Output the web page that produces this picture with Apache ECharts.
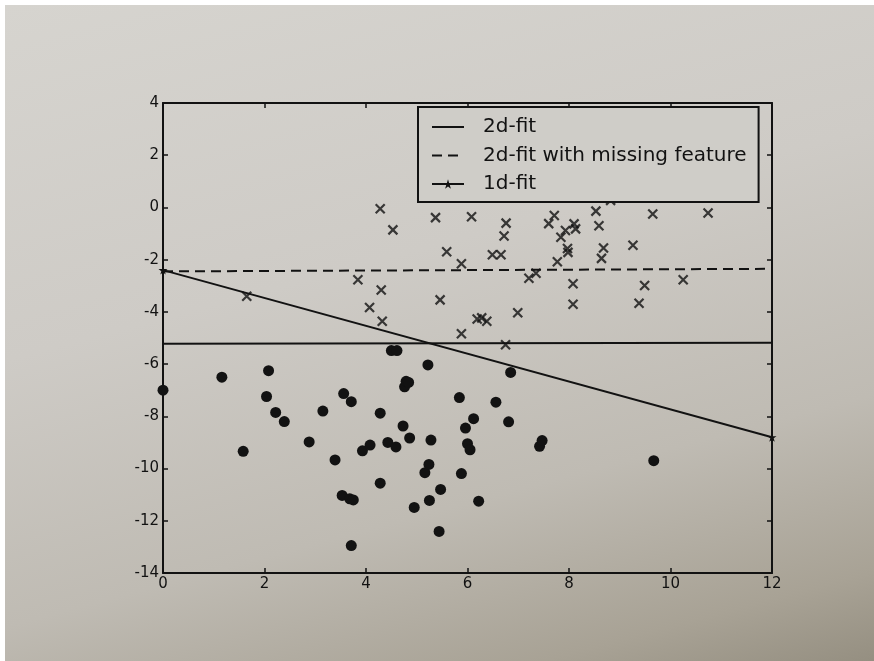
<!DOCTYPE html>
<html>
<head>
<meta charset="utf-8">
<script src="https://cdn.jsdelivr.net/npm/echarts@6/dist/echarts.min.js"></script>
<style>
  html, body { margin: 0; padding: 0; background: #ffffff; }
  #paper {
    position: absolute; left: 5px; top: 5px; width: 869px; height: 656px;
    background: linear-gradient(165deg, #d6d4cf 0%, #cecbc6 40%, #bfbbb3 70%, #a8a295 90%, #958f81 100%);
  }
  #main { position: absolute; left: 0; top: 0; width: 874px; height: 661px; }
</style>
</head>
<body>
<div id="paper"></div>
<div id="main"></div>
<script>
// axis ranges
var xRange = [0, 12];
var yRange = [-14, 4];

// fitted lines (endpoints at x = 0 and x = 12)
var fitX = [0, 12];
var fit2dY = [-5.22, -5.18];
var fitMissingY = [-2.45, -2.35];
var fit1dY = [-2.4, -8.8];

// class 1 (crosses)
var crossX = [1.65, 3.84, 4.07, 4.28, 4.3, 4.32, 4.53, 5.37, 5.46, 5.59, 5.88, 5.88, 6.08, 6.19, 6.28, 6.38,
  6.49, 6.66, 6.72, 6.76, 6.75, 6.99, 7.21, 7.35, 7.6, 7.71, 7.77, 7.84, 7.93, 7.97, 7.98, 8.1, 8.13,
  8.08, 8.08, 8.53, 8.59, 8.64, 8.68, 8.82, 9.26, 9.38, 9.49, 9.65, 10.25, 10.74];
var crossY = [-3.4, -2.77, -3.83, -0.05, -3.16, -4.36, -0.86, -0.39, -3.54, -1.7, -2.16, -4.84, -0.36, -4.27, -4.23, -4.36,
  -1.81, -1.81, -1.09, -0.6, -5.26, -4.03, -2.71, -2.52, -0.62, -0.31, -2.08, -1.14, -0.88, -1.57, -1.72, -0.63, -0.82,
  -2.92, -3.71, -0.14, -0.7, -1.95, -1.55, 0.27, -1.45, -3.67, -2.99, -0.25, -2.77, -0.21];

// class 2 (filled dots)
var dotX = [0, 1.16, 1.58, 2.04, 2.08, 2.22, 2.39, 2.88, 3.15, 3.39, 3.53, 3.56, 3.68, 3.71, 3.71, 3.75, 3.93,
  4.08, 4.28, 4.28, 4.43, 4.5, 4.59, 4.61, 4.73, 4.76, 4.79, 4.84, 4.86, 4.95, 5.16, 5.22, 5.24, 5.25, 5.28,
  5.44, 5.47, 5.84, 5.88, 5.96, 6.0, 6.05, 6.12, 6.22, 6.56, 6.81, 6.85, 7.42, 7.47, 9.67];
var dotY = [-7.0, -6.5, -9.34, -7.24, -6.25, -7.85, -8.2, -8.98, -7.8, -9.67, -11.03, -7.13, -11.16, -7.44, -12.95, -11.2, -9.32,
  -9.1, -7.88, -10.56, -9.0, -5.48, -9.17, -5.48, -8.37, -6.87, -6.66, -6.7, -8.83, -11.49, -10.16, -6.03, -9.84, -11.22, -8.91,
  -12.41, -10.8, -7.28, -10.19, -8.45, -9.05, -9.28, -8.09, -11.25, -7.46, -8.21, -6.32, -9.15, -8.93, -9.7];

function pairs(xs, ys) {
  var out = [];
  for (var i = 0; i < xs.length; i++) {
    out.push([xs[i], ys[i]]);
  }
  return out;
}

var ink = '#121212';
var font = 'DejaVu Sans';
var starPath = 'path://M50,0L61,35H98L68,57L79,91L50,70L21,91L32,57L2,35H39Z';
var crossPath = 'path://M0,0L10,10M10,0L0,10';

var chart = echarts.init(document.getElementById('main'));

function axisBase(pos, showLabel) {
  return {
    type: 'value',
    position: pos,
    interval: 2,
    axisLine: { show: true, onZero: false, lineStyle: { color: ink, width: 2 } },
    axisTick: { show: true, inside: true, length: 5, lineStyle: { color: ink, width: 1.5 } },
    axisLabel: { show: showLabel, color: ink, fontSize: 15, fontFamily: font, margin: 4 },
    splitLine: { show: false }
  };
}

var xBottom = axisBase('bottom', true);
xBottom.min = xRange[0]; xBottom.max = xRange[1];
var xTop = axisBase('top', false);
xTop.min = xRange[0]; xTop.max = xRange[1];
var yLeft = axisBase('left', true);
yLeft.min = yRange[0]; yLeft.max = yRange[1];
var yRight = axisBase('right', false);
yRight.min = yRange[0]; yRight.max = yRange[1];

chart.setOption({
  backgroundColor: 'transparent',
  animation: false,
  grid: { left: 163, right: 102, top: 103, bottom: 88 },
  xAxis: [xBottom, xTop],
  yAxis: [yLeft, yRight],
  legend: {
    data: [
      { name: '2d-fit', itemStyle: { opacity: 0 } },
      { name: '2d-fit with missing feature', itemStyle: { opacity: 0 } },
      { name: '1d-fit' }
    ],
    orient: 'vertical',
    left: 418,
    top: 107,
    padding: [10, 12, 8, 13],
    itemWidth: 32,
    itemHeight: 12,
    itemGap: 8.5,
    borderColor: ink,
    borderWidth: 2,
    borderRadius: 0,
    backgroundColor: '#cfcdc8',
    z: 10,
    textStyle: { color: ink, fontSize: 20, lineHeight: 20, fontFamily: font, padding: [0, 0, 0, 14] }
  },
  series: [
    {
      name: '2d-fit',
      type: 'line',
      data: pairs(fitX, fit2dY),
      symbol: 'none',
      lineStyle: { color: ink, width: 2 },
      itemStyle: { color: ink }
    },
    {
      name: '2d-fit with missing feature',
      type: 'line',
      data: pairs(fitX, fitMissingY),
      symbol: 'none',
      lineStyle: { color: ink, width: 2, type: [10, 6] },
      itemStyle: { color: ink }
    },
    {
      name: '1d-fit',
      type: 'line',
      data: pairs(fitX, fit1dY),
      symbol: starPath,
      symbolSize: 9,
      lineStyle: { color: ink, width: 2 },
      itemStyle: { color: ink }
    },
    {
      name: 'class1',
      type: 'scatter',
      data: pairs(crossX, crossY),
      symbol: crossPath,
      symbolSize: 9,
      itemStyle: { color: 'transparent', borderColor: ink, borderWidth: 2.2 }
    },
    {
      name: 'class2',
      type: 'scatter',
      data: pairs(dotX, dotY),
      symbol: 'circle',
      symbolSize: 11,
      itemStyle: { color: ink, opacity: 1 }
    }
  ]
});
</script>
</body>
</html>
